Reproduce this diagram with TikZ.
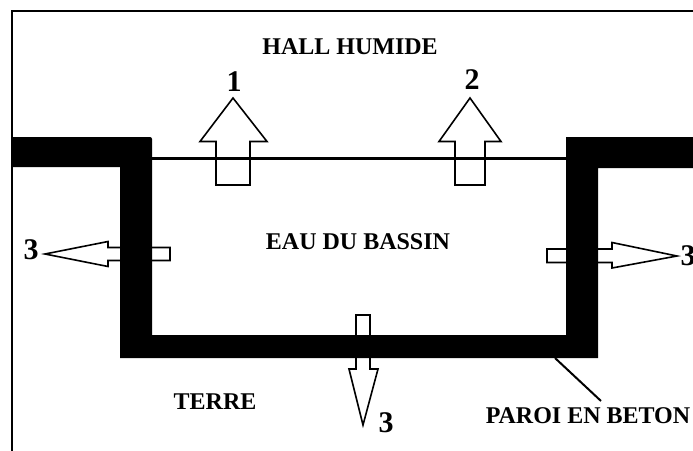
\documentclass[tikz,border=0pt]{standalone}
\usepackage{fontspec}
\setmainfont{Liberation Serif}
\tikzset{
  lbl/.style={font=\bfseries\fontsize{24}{26}\selectfont, inner sep=0pt, anchor=center},
  num/.style={font=\bfseries\fontsize{30}{31}\selectfont, inner sep=0pt, anchor=center},
  flow/.style={draw=black, line width=1.6pt, line join=miter, fill=none},
  wall/.style={fill=black, draw=none},
  frameline/.style={draw=black, line width=2.2pt},
}
\begin{document}
\begin{tikzpicture}[x=1pt, y=-1pt]
\useasboundingbox (0,0) rectangle (693,450);
% frame
\draw[frameline] (12,452) -- (12,11) -- (695,11);
% water surface
\coordinate (wl) at (152,158);
\coordinate (wr) at (566,158);
\draw[line width=3pt] (wl) -- (wr);
% arrows 1 and 2 (upwards)
\draw[flow] (216,185) -- (216,141.5) -- (200,141.5) -- (233,98) -- (267,141.5) -- (250,141.5) -- (250,185) -- cycle;
\draw[flow] (455,185) -- (455,141.5) -- (439,141.5) -- (470,98) -- (501,141.5) -- (485,141.5) -- (485,185) -- cycle;
% left arrow 3
\draw[flow] (170,247.5) -- (108,247.5) -- (108,241.5) -- (45,254) -- (108,266.5) -- (108,260.5) -- (170,260.5) -- cycle;
% right arrow 3
\draw[flow] (547,249) -- (612,249) -- (612,242.5) -- (677,256) -- (612,268) -- (612,262.5) -- (547,262.5) -- cycle;
% bottom arrow 3
\draw[flow] (356,315) -- (370,315) -- (370,369) -- (378,369) -- (363,425) -- (349,369) -- (356,369) -- cycle;
% concrete wall
\fill[wall] (12,137) -- (150,137) to[out=0,in=90] (152,139) -- (152,335) -- (566,335) -- (566,137) -- (693,137) -- (693,168)
  -- (598,168) -- (598,358) -- (120,358) -- (120,167) -- (12,167) -- cycle;
% labels
\node[lbl] (hall) at (350,47) {HALL HUMIDE};
\node[lbl] (eau) at (358,242) {EAU DU BASSIN};
\node[lbl] (terre) at (215,402) {TERRE};
\node[lbl] (paroi) at (588,416) {PAROI EN BETON};
\node[num] (n1) at (234,82) {1};
\node[num] (n2) at (472,80) {2};
\node[num] (n3l) at (31,250) {3};
\node[num] (n3r) at (688,256) {3};
\node[num] (n3b) at (386,423) {3};
% leader line
\coordinate (wallpt) at (555,358);
\coordinate (leadend) at (601,401);
\draw[line width=2pt] (wallpt) -- (leadend);
\end{tikzpicture}
\end{document}
